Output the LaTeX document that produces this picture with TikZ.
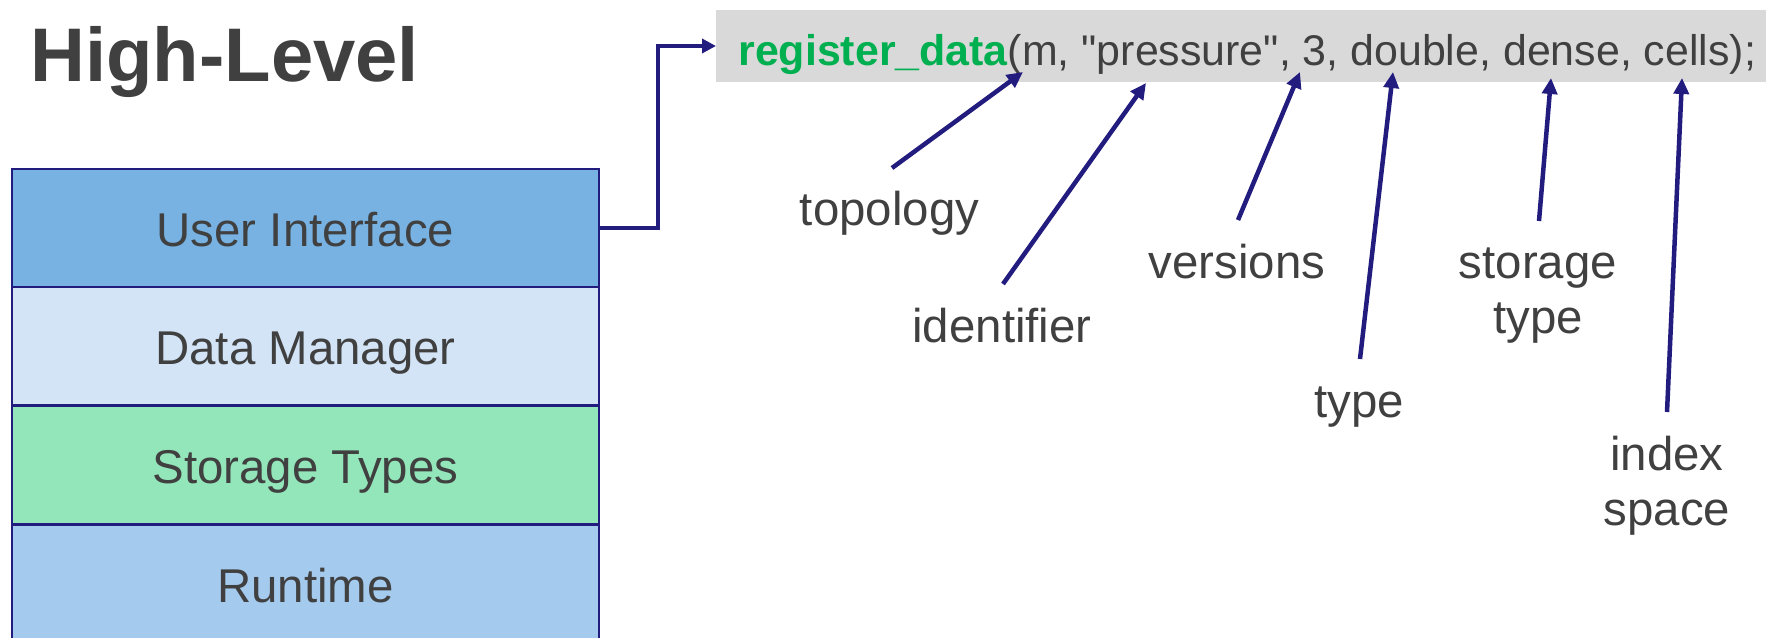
\documentclass[tikz,border=0pt]{standalone}
\usepackage{fontspec}
\setmainfont{Liberation Sans}[Ligatures=TeXOff]
\usetikzlibrary{arrows.meta,calc}

\definecolor{ink}{HTML}{404040}
\definecolor{navy}{HTML}{221C7E}
\definecolor{uiblue}{HTML}{77B2E3}
\definecolor{dmblue}{HTML}{D2E4F5}
\definecolor{stgreen}{HTML}{93E6BA}
\definecolor{rtblue}{HTML}{A4CAEE}
\definecolor{codegray}{HTML}{D9D9D9}
\definecolor{codegreen}{HTML}{00B050}

\tikzset{
  layerbox/.style={draw=navy, line width=1pt, inner sep=0pt,
    minimum width=293.5pt, minimum height=59pt,
    text=ink, font=\fontsize{23.7}{27.5}\selectfont,
    text height=19pt, text depth=0pt},
  lbl/.style={inner sep=0pt, text=ink, align=center,
    font=\fontsize{23.7}{27.5}\selectfont},
  link/.style={draw=navy, line width=2.25pt,
    -{Triangle[length=8pt, width=7.5pt]}},
  elbow/.style={draw=navy, line width=2pt,
    -{Triangle[length=7pt, width=7pt]}}
}

\begin{document}
\begin{tikzpicture}[x=0.5pt, y=-0.5pt]
\useasboundingbox (0,0) rectangle (1766,637);
\clip (0,0) rectangle (1766,637);

% title
\node[anchor=base west, inner sep=0pt, text=ink,
      font=\fontsize{38}{44}\selectfont\bfseries] (title) at (30,81) {High-Level};

% layer stack
\node[layerbox, fill=uiblue]  (ui) at (305.5,227.5) {User Interface};
\node[layerbox, fill=dmblue]  (dm) at (305.5,345.5) {Data Manager};
\node[layerbox, fill=stgreen] (st) at (305.5,464.5) {Storage Types};
\node[layerbox, fill=rtblue]  (rt) at (305.5,583.5) {Runtime};

% code line
\node[fill=codegray, inner sep=0pt, minimum width=540pt, minimum height=36pt,
      anchor=west] (codebox) at (716,46) {};
\node[anchor=base west, inner sep=0pt, text=ink,
      font=\fontsize{21.45}{25}\selectfont] (code) at (738,65)
  {\textcolor{codegreen}{\bfseries register\_data}(m, "pressure", 3, double, dense, cells);};

% interface -> code
\draw[elbow] (ui.east) -- ++(58,0) |- (codebox.west);

% argument labels (base = last line)
\node[lbl, anchor=base] (topology)   at (889.5,225) {topology};
\node[lbl, anchor=base] (identifier) at (1002,342)  {identifier};
\node[lbl, anchor=base] (versions)   at (1237,278)  {versions};
\node[lbl, anchor=base] (type)       at (1359,417)  {type};
\node[lbl, anchor=base] (storage)    at (1538,333)  {storage\\type};
\node[lbl, anchor=base] (index)      at (1667,525)  {index\\space};

% arrow ends on the call
\coordinate (aTopo)  at (1023,72);
\coordinate (aIdent) at (1146,83);
\coordinate (aVers)  at (1300,72);
\coordinate (aType)  at (1393,72);
\coordinate (aStor)  at (1551,78);
\coordinate (aIdx)   at (1682,78);

% arrow starts above the labels
\coordinate (sTopo)  at (892,168);
\coordinate (sIdent) at (1003,284);
\coordinate (sVers)  at (1238,220);
\coordinate (sType)  at (1360,359);
\coordinate (sStor)  at (1539,221);
\coordinate (sIdx)   at (1667,412);

\draw[link] (sTopo)  -- (aTopo);
\draw[link] (sIdent) -- (aIdent);
\draw[link] (sVers)  -- (aVers);
\draw[link] (sType)  -- (aType);
\draw[link] (sStor)  -- (aStor);
\draw[link] (sIdx)   -- (aIdx);
\end{tikzpicture}
\end{document}
